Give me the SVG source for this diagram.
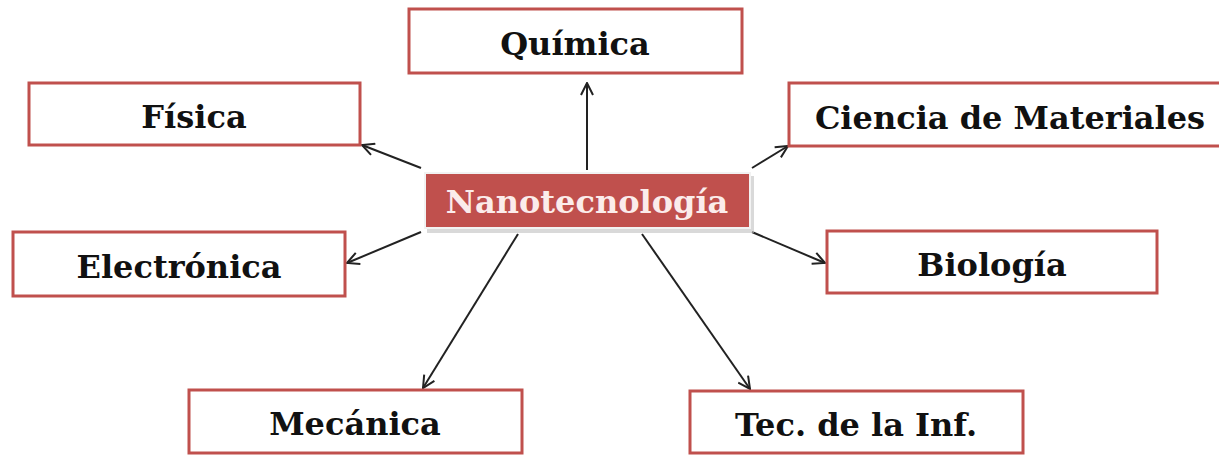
<svg xmlns="http://www.w3.org/2000/svg" width="1219" height="456" viewBox="0 0 1219 456">
<style>
.box{fill:#ffffff;stroke:#c0504d;stroke-width:3}
.lbl{font-family:"DejaVu Serif","Liberation Serif",serif;font-weight:bold;font-size:32px;fill:#111;text-anchor:middle}
.conn{stroke:#222;stroke-width:2;fill:none;marker-end:url(#ah)}
</style>
<defs>
<marker id="ah" viewBox="0 0 14 14" refX="13" refY="7" markerWidth="14" markerHeight="14" markerUnits="userSpaceOnUse" orient="auto">
<polyline points="1,1 13,7 1,13" fill="none" stroke="#222" stroke-width="2"/>
</marker>
</defs>
<rect width="1219" height="456" fill="#ffffff"/>
<g id="connectors">
<line class="conn" x1="587" y1="170" x2="587" y2="83"/>
<line class="conn" x1="421" y1="168" x2="362" y2="145"/>
<line class="conn" x1="752" y1="168" x2="788" y2="146"/>
<line class="conn" x1="421" y1="232" x2="347" y2="263"/>
<line class="conn" x1="752" y1="232" x2="825" y2="263"/>
<line class="conn" x1="518" y1="234" x2="423" y2="388"/>
<line class="conn" x1="642" y1="234" x2="750" y2="389"/>
</g>
<g id="quimica"><rect class="box" x="409" y="9" width="333" height="64"/><text class="lbl" x="575" y="55">Química</text></g>
<g id="fisica"><rect class="box" x="29" y="83" width="331" height="62"/><text class="lbl" x="194" y="128">Física</text></g>
<g id="ciencia"><rect class="box" x="789" y="83" width="442" height="63"/><text class="lbl" x="1010" y="129">Ciencia de Materiales</text></g>
<g id="electronica"><rect class="box" x="13" y="232" width="332" height="64"/><text class="lbl" x="179" y="278">Electrónica</text></g>
<g id="biologia"><rect class="box" x="827" y="231" width="330" height="62"/><text class="lbl" x="992" y="276">Biología</text></g>
<g id="mecanica"><rect class="box" x="189" y="390" width="333" height="63"/><text class="lbl" x="355" y="435">Mecánica</text></g>
<g id="tec"><rect class="box" x="690" y="391" width="333" height="62"/><text class="lbl" x="856" y="436">Tec. de la Inf.</text></g>
<g id="nanotecnologia">
<rect x="427" y="176" width="327" height="57" fill="#bfbfbf" opacity="0.6"/>
<rect x="425" y="173" width="325" height="55" fill="#c0504d" stroke="#f2f2f2" stroke-width="2"/>
<text class="lbl" x="587" y="213" style="fill:#fbeceb">Nanotecnología</text>
</g>
</svg>
